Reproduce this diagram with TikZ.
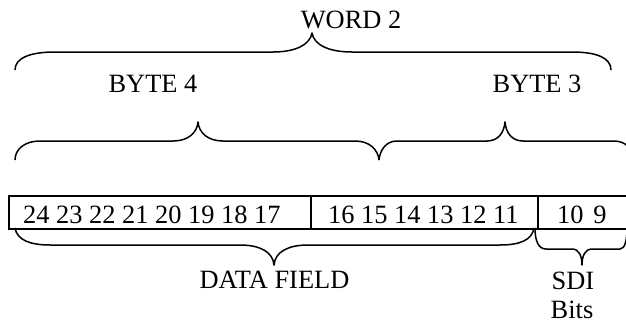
\documentclass[tikz,border=0pt]{standalone}
\usepackage{fontspec}
\setmainfont{Liberation Serif}
\begin{document}
\begin{tikzpicture}[x=1pt,y=-1pt,
  cell/.style={draw, line width=1.6pt, rectangle, anchor=north west, outer sep=0pt, inner sep=0pt, minimum height=33pt},
  lbl/.style={inner sep=0pt, font=\fontsize{26.4}{31.7}\selectfont},
  bracepath/.style={line width=1.5pt, line join=round}]
\clip (0,0) rectangle (626,324);
% cells of the word
\node[cell, minimum width=302pt] (c1) at (9,196) {};
\node[cell, minimum width=227pt] (c2) at (311,196) {};
\node[cell, minimum width=122pt] (c3) at (538,196) {};
% numbers
\node[lbl, anchor=base west] (n1) at (23,223) {24 23 22 21 20 19 18 17};
\node[lbl, anchor=base west] (n2) at (328,223) {16 15 14 13 12 11};
\node[lbl, anchor=base west] (n3) at (557,223) {10\hspace{0.12em} 9};
% labels
\node[lbl, anchor=base] (word) at (351,28) {WORD 2};
\node[lbl, anchor=base] (b4) at (153,92) {BYTE 4};
\node[lbl, anchor=base] (b3) at (537,92) {BYTE 3};
\node[lbl, anchor=base] (df) at (274.5,288) {DATA FIELD};
\node[lbl, anchor=base] (sdi) at (573,289) {SDI};
\node[lbl, anchor=base] (bits) at (572,318) {Bits};
% WORD 2 brace
\draw[bracepath] (15,70) .. controls (15,58) and (30,52) .. (55,52) -- (273,52)
  .. controls (295,52) and (310,45) .. (312,33)
  .. controls (314,45) and (329,52) .. (352,52) -- (572,52)
  .. controls (597,52) and (611,58) .. (611,70);
% BYTE 4 brace
\draw[bracepath] (15,160) .. controls (15,149) and (25,141) .. (40,141) -- (173,141)
  .. controls (188,141) and (197,133) .. (198,122)
  .. controls (199,133) and (208,141) .. (223,141) -- (355,141)
  .. controls (370,141) and (378,150) .. (379,160);
% BYTE 3 brace
\draw[bracepath] (379,160) .. controls (380,150) and (386,141) .. (397,141) -- (487,141)
  .. controls (498,141) and (504,133) .. (505,122)
  .. controls (506,133) and (512,141) .. (523,141) -- (613,141)
  .. controls (628,141) and (632,150) .. (632,160);
% DATA FIELD brace
\draw[bracepath] (15,228) .. controls (17,240) and (30,245) .. (50,245) -- (240,245)
  .. controls (260,245) and (273,252) .. (274,265)
  .. controls (275,252) and (288,245) .. (308,245) -- (500,245)
  .. controls (520,245) and (532,240) .. (534,228);
% SDI brace
\draw[bracepath] (535,228) .. controls (535,240) and (538,249) .. (546,249) -- (572,249)
  .. controls (579,249) and (582,256) .. (582,265)
  .. controls (582,256) and (585,249) .. (592,249) -- (620,249)
  .. controls (625,249) and (627,240) .. (627,228);
\end{tikzpicture}
\end{document}
